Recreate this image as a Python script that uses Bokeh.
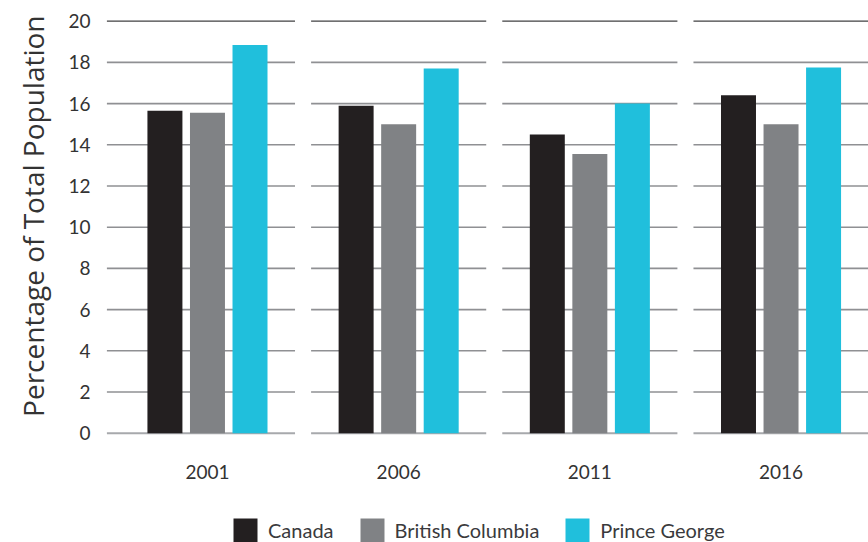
from bokeh.plotting import figure
from bokeh.models import Legend, LegendItem, FixedTicker, Range1d, Title
from bokeh.core.properties import value
from bokeh.embed import file_html
from bokeh.resources import INLINE

# ---- data ----
years = ["2001", "2006", "2011", "2016"]
series = ["Canada", "British Columbia", "Prince George"]
canada = [15.65, 15.9, 14.5, 16.4]
british_columbia = [15.55, 15.0, 13.55, 15.0]
prince_george = [18.85, 17.7, 16.0, 17.75]
y_ticks = [0, 2, 4, 6, 8, 10, 12, 14, 16, 18, 20]
y_label = "Percentage of Total Population"

# ---- style ----
colors = ["#231f20", "#808285", "#20bfdc"]
FONT = "Lato"
TEXT = "#333333"
offsets = [-0.2225, 0.0, 0.2225]
BAR_W = 0.183
GRID_HALF = 0.458
FIRST_EXTRA = 0.068
YEAR_LABEL_Y = -1.89   # baseline of the category labels, in axis units below 0

xs = list(range(len(years)))
values = [canada, british_columbia, prince_george]

p = figure(width=868, height=542,
           x_range=Range1d(-0.5595, 3.4575), y_range=Range1d(-5.306, 20.665),
           output_backend="svg", toolbar_location=None,
           min_border_left=100, min_border_right=0,
           min_border_top=7, min_border_bottom=0)
p.outline_line_color = None
p.xgrid.visible = False
p.ygrid.visible = False
p.xaxis.visible = False
p.background_fill_color = "white"
p.border_fill_color = "white"

# segmented grid lines (one piece per year group)
for t in y_ticks:
    x0 = [i - GRID_HALF - (FIRST_EXTRA if i == 0 else 0) for i in xs]
    x1 = [i + GRID_HALF + (FIRST_EXTRA if i == len(xs) - 1 else 0) for i in xs]
    if t == 0:
        col, lw = "#a7a9ac", 2
    elif t == max(y_ticks):
        col, lw = "#414042", 1.2
    else:
        col, lw = "#8f9093", 1.6
    p.segment(x0=x0, y0=[t] * len(xs), x1=x1, y1=[t] * len(xs),
              line_color=col, line_width=lw)

renderers = []
for name, vals, off, c in zip(series, values, offsets, colors):
    r = p.vbar(x=[i + off for i in xs], top=vals, bottom=0, width=BAR_W,
               fill_color=c, line_color=None)
    renderers.append((name, r))

# category (year) labels under each group
p.text(x=xs, y=[YEAR_LABEL_Y] * len(xs), text=years,
       text_align="center", text_baseline="alphabetic",
       text_font=value(FONT), text_font_size="19px", text_color=TEXT)

# y axis
p.yaxis.ticker = FixedTicker(ticks=y_ticks)
p.yaxis.axis_line_color = None
p.yaxis.major_tick_line_color = None
p.yaxis.minor_tick_line_color = None
p.yaxis.major_label_standoff = 4
p.yaxis.major_label_text_font = FONT
p.yaxis.major_label_text_font_size = "19px"
p.yaxis.major_label_text_color = TEXT

# y axis title, anchored near the top of the scale
p.add_layout(Title(text=y_label, align="right", offset=8, standoff=24,
                   vertical_align="top",
                   text_font="Open Sans", text_font_style="normal",
                   text_font_size="28px", text_color=TEXT), "left")

legend = Legend(items=[LegendItem(label=n, renderers=[r]) for n, r in renderers],
                orientation="horizontal", location=(130, -3),
                glyph_width=30, glyph_height=30, label_standoff=8, spacing=23,
                padding=0, margin=0, border_line_color=None,
                background_fill_alpha=0,
                label_text_font=FONT, label_text_font_size="20px",
                label_text_color="#3a3a3c")
p.add_layout(legend, "center")

open("out.html", "w").write(file_html(p, INLINE))
